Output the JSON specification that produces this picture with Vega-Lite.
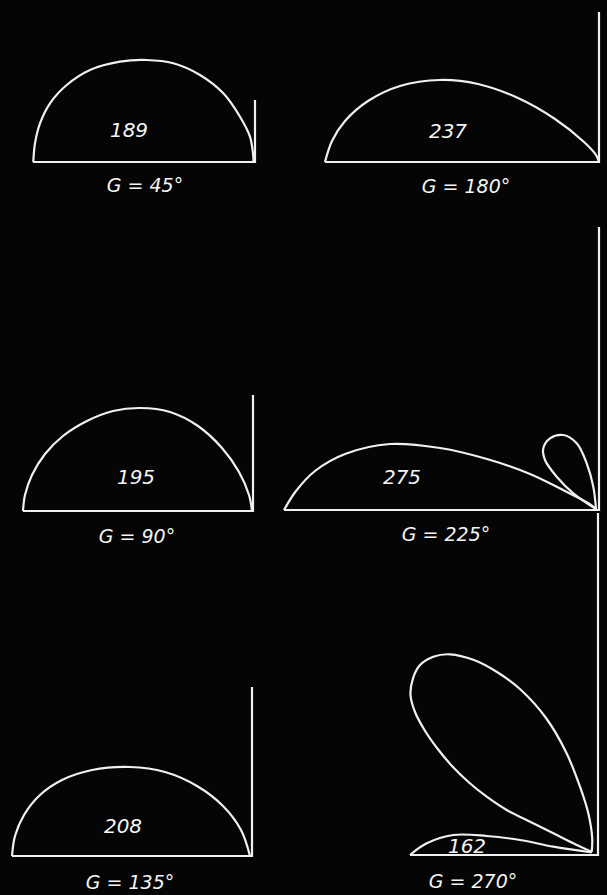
{
  "$schema": "https://vega.github.io/schema/vega-lite/v6.json",
  "autosize": {"type": "fit", "contains": "padding"},
  "width": 607,
  "height": 895,
  "padding": 0,
  "background": "#050505",
  "config": {"view": {"stroke": null}},
  "datasets": {
    "lines": [
      {"series": "p45f", "kind": "frame", "i": 0, "x": 33, "y": 162},
      {"series": "p45f", "kind": "frame", "i": 1, "x": 255, "y": 162},
      {"series": "p45f", "kind": "frame", "i": 2, "x": 255, "y": 100},
      {"series": "p45c", "kind": "curve", "i": 0, "x": 33.3, "y": 162},
      {"series": "p45c", "kind": "curve", "i": 1, "x": 35, "y": 143.3},
      {"series": "p45c", "kind": "curve", "i": 2, "x": 40, "y": 123.3},
      {"series": "p45c", "kind": "curve", "i": 3, "x": 50, "y": 103.3},
      {"series": "p45c", "kind": "curve", "i": 4, "x": 66.7, "y": 85},
      {"series": "p45c", "kind": "curve", "i": 5, "x": 90, "y": 70},
      {"series": "p45c", "kind": "curve", "i": 6, "x": 120, "y": 61.7},
      {"series": "p45c", "kind": "curve", "i": 7, "x": 146.7, "y": 60},
      {"series": "p45c", "kind": "curve", "i": 8, "x": 173.3, "y": 63.3},
      {"series": "p45c", "kind": "curve", "i": 9, "x": 200, "y": 75},
      {"series": "p45c", "kind": "curve", "i": 10, "x": 223.3, "y": 93.3},
      {"series": "p45c", "kind": "curve", "i": 11, "x": 240, "y": 116.7},
      {"series": "p45c", "kind": "curve", "i": 12, "x": 250, "y": 136.7},
      {"series": "p45c", "kind": "curve", "i": 13, "x": 253.3, "y": 156.7},
      {"series": "p45c", "kind": "curve", "i": 14, "x": 253.5, "y": 162},

      {"series": "p180f", "kind": "frame", "i": 0, "x": 325, "y": 162},
      {"series": "p180f", "kind": "frame", "i": 1, "x": 599, "y": 162},
      {"series": "p180f", "kind": "frame", "i": 2, "x": 599, "y": 12},
      {"series": "p180c", "kind": "curve", "i": 0, "x": 325, "y": 162},
      {"series": "p180c", "kind": "curve", "i": 1, "x": 332, "y": 141},
      {"series": "p180c", "kind": "curve", "i": 2, "x": 345, "y": 121},
      {"series": "p180c", "kind": "curve", "i": 3, "x": 368, "y": 101},
      {"series": "p180c", "kind": "curve", "i": 4, "x": 400, "y": 86},
      {"series": "p180c", "kind": "curve", "i": 5, "x": 440, "y": 80},
      {"series": "p180c", "kind": "curve", "i": 6, "x": 478, "y": 84},
      {"series": "p180c", "kind": "curve", "i": 7, "x": 518, "y": 98},
      {"series": "p180c", "kind": "curve", "i": 8, "x": 555, "y": 119},
      {"series": "p180c", "kind": "curve", "i": 9, "x": 584, "y": 142},
      {"series": "p180c", "kind": "curve", "i": 10, "x": 596, "y": 155},
      {"series": "p180c", "kind": "curve", "i": 11, "x": 599, "y": 162},

      {"series": "p90f", "kind": "frame", "i": 0, "x": 23, "y": 511},
      {"series": "p90f", "kind": "frame", "i": 1, "x": 253, "y": 511},
      {"series": "p90f", "kind": "frame", "i": 2, "x": 253, "y": 395},
      {"series": "p90c", "kind": "curve", "i": 0, "x": 23, "y": 511},
      {"series": "p90c", "kind": "curve", "i": 1, "x": 25, "y": 495},
      {"series": "p90c", "kind": "curve", "i": 2, "x": 32, "y": 475},
      {"series": "p90c", "kind": "curve", "i": 3, "x": 45, "y": 454},
      {"series": "p90c", "kind": "curve", "i": 4, "x": 63, "y": 436},
      {"series": "p90c", "kind": "curve", "i": 5, "x": 87, "y": 421},
      {"series": "p90c", "kind": "curve", "i": 6, "x": 113, "y": 411},
      {"series": "p90c", "kind": "curve", "i": 7, "x": 140, "y": 408},
      {"series": "p90c", "kind": "curve", "i": 8, "x": 170, "y": 412},
      {"series": "p90c", "kind": "curve", "i": 9, "x": 198, "y": 426},
      {"series": "p90c", "kind": "curve", "i": 10, "x": 222, "y": 448},
      {"series": "p90c", "kind": "curve", "i": 11, "x": 239, "y": 472},
      {"series": "p90c", "kind": "curve", "i": 12, "x": 249, "y": 495},
      {"series": "p90c", "kind": "curve", "i": 13, "x": 252, "y": 511},

      {"series": "p225f", "kind": "frame", "i": 0, "x": 284, "y": 510},
      {"series": "p225f", "kind": "frame", "i": 1, "x": 599, "y": 510},
      {"series": "p225f", "kind": "frame", "i": 2, "x": 599, "y": 227},
      {"series": "p225c", "kind": "curve", "i": 0, "x": 284, "y": 510},
      {"series": "p225c", "kind": "curve", "i": 1, "x": 296, "y": 491},
      {"series": "p225c", "kind": "curve", "i": 2, "x": 315, "y": 471},
      {"series": "p225c", "kind": "curve", "i": 3, "x": 345, "y": 454},
      {"series": "p225c", "kind": "curve", "i": 4, "x": 390, "y": 444},
      {"series": "p225c", "kind": "curve", "i": 5, "x": 440, "y": 448},
      {"series": "p225c", "kind": "curve", "i": 6, "x": 487, "y": 459},
      {"series": "p225c", "kind": "curve", "i": 7, "x": 530, "y": 474},
      {"series": "p225c", "kind": "curve", "i": 8, "x": 565, "y": 491},
      {"series": "p225c", "kind": "curve", "i": 9, "x": 588, "y": 503},
      {"series": "p225c", "kind": "curve", "i": 10, "x": 596, "y": 509},
      {"series": "p225s", "kind": "curve", "i": 0, "x": 596, "y": 509},
      {"series": "p225s", "kind": "curve", "i": 1, "x": 593.3, "y": 486.7},
      {"series": "p225s", "kind": "curve", "i": 2, "x": 586.7, "y": 463.3},
      {"series": "p225s", "kind": "curve", "i": 3, "x": 576.7, "y": 443.3},
      {"series": "p225s", "kind": "curve", "i": 4, "x": 563.3, "y": 435},
      {"series": "p225s", "kind": "curve", "i": 5, "x": 550, "y": 438.3},
      {"series": "p225s", "kind": "curve", "i": 6, "x": 543.3, "y": 448.3},
      {"series": "p225s", "kind": "curve", "i": 7, "x": 545, "y": 460},
      {"series": "p225s", "kind": "curve", "i": 8, "x": 556.7, "y": 476.7},
      {"series": "p225s", "kind": "curve", "i": 9, "x": 573.3, "y": 493.3},
      {"series": "p225s", "kind": "curve", "i": 10, "x": 596, "y": 509},

      {"series": "p135f", "kind": "frame", "i": 0, "x": 12, "y": 856},
      {"series": "p135f", "kind": "frame", "i": 1, "x": 252, "y": 856},
      {"series": "p135f", "kind": "frame", "i": 2, "x": 252, "y": 687},
      {"series": "p135c", "kind": "curve", "i": 0, "x": 12, "y": 856},
      {"series": "p135c", "kind": "curve", "i": 1, "x": 15, "y": 836},
      {"series": "p135c", "kind": "curve", "i": 2, "x": 24, "y": 815},
      {"series": "p135c", "kind": "curve", "i": 3, "x": 40, "y": 795},
      {"series": "p135c", "kind": "curve", "i": 4, "x": 62, "y": 780},
      {"series": "p135c", "kind": "curve", "i": 5, "x": 92, "y": 770},
      {"series": "p135c", "kind": "curve", "i": 6, "x": 130, "y": 767},
      {"series": "p135c", "kind": "curve", "i": 7, "x": 165, "y": 772},
      {"series": "p135c", "kind": "curve", "i": 8, "x": 197, "y": 786},
      {"series": "p135c", "kind": "curve", "i": 9, "x": 223, "y": 806},
      {"series": "p135c", "kind": "curve", "i": 10, "x": 241, "y": 830},
      {"series": "p135c", "kind": "curve", "i": 11, "x": 250, "y": 856},

      {"series": "p270f", "kind": "frame", "i": 0, "x": 410, "y": 855},
      {"series": "p270f", "kind": "frame", "i": 1, "x": 598, "y": 855},
      {"series": "p270f", "kind": "frame", "i": 2, "x": 598, "y": 513},
      {"series": "p270c", "kind": "curve", "i": 0, "x": 410, "y": 855},
      {"series": "p270c", "kind": "curve", "i": 1, "x": 426.7, "y": 843.3},
      {"series": "p270c", "kind": "curve", "i": 2, "x": 453.3, "y": 835},
      {"series": "p270c", "kind": "curve", "i": 3, "x": 486.7, "y": 836},
      {"series": "p270c", "kind": "curve", "i": 4, "x": 520, "y": 840},
      {"series": "p270c", "kind": "curve", "i": 5, "x": 553.3, "y": 846.7},
      {"series": "p270c", "kind": "curve", "i": 6, "x": 591.7, "y": 852.5},
      {"series": "p270l", "kind": "curve", "i": 0, "x": 591.7, "y": 852},
      {"series": "p270l", "kind": "curve", "i": 1, "x": 573.3, "y": 843.3},
      {"series": "p270l", "kind": "curve", "i": 2, "x": 553.3, "y": 833.3},
      {"series": "p270l", "kind": "curve", "i": 3, "x": 530, "y": 821.7},
      {"series": "p270l", "kind": "curve", "i": 4, "x": 506.7, "y": 810},
      {"series": "p270l", "kind": "curve", "i": 5, "x": 486.7, "y": 796.7},
      {"series": "p270l", "kind": "curve", "i": 6, "x": 469, "y": 782.5},
      {"series": "p270l", "kind": "curve", "i": 7, "x": 452, "y": 766},
      {"series": "p270l", "kind": "curve", "i": 8, "x": 437, "y": 748},
      {"series": "p270l", "kind": "curve", "i": 9, "x": 424.5, "y": 730},
      {"series": "p270l", "kind": "curve", "i": 10, "x": 415, "y": 712},
      {"series": "p270l", "kind": "curve", "i": 11, "x": 410.5, "y": 695},
      {"series": "p270l", "kind": "curve", "i": 12, "x": 413, "y": 678.3},
      {"series": "p270l", "kind": "curve", "i": 13, "x": 420, "y": 665},
      {"series": "p270l", "kind": "curve", "i": 14, "x": 433.3, "y": 656.7},
      {"series": "p270l", "kind": "curve", "i": 15, "x": 450, "y": 654.3},
      {"series": "p270l", "kind": "curve", "i": 16, "x": 474, "y": 660},
      {"series": "p270l", "kind": "curve", "i": 17, "x": 497, "y": 672},
      {"series": "p270l", "kind": "curve", "i": 18, "x": 521, "y": 690},
      {"series": "p270l", "kind": "curve", "i": 19, "x": 546, "y": 718},
      {"series": "p270l", "kind": "curve", "i": 20, "x": 566, "y": 752},
      {"series": "p270l", "kind": "curve", "i": 21, "x": 580, "y": 786.7},
      {"series": "p270l", "kind": "curve", "i": 22, "x": 588.3, "y": 813.3},
      {"series": "p270l", "kind": "curve", "i": 23, "x": 592.2, "y": 838},
      {"series": "p270l", "kind": "curve", "i": 24, "x": 591.7, "y": 852}
    ],
    "labels": [
      {"text": "189", "kind": "value", "x": 129, "y": 131},
      {"text": "237", "kind": "value", "x": 448, "y": 132},
      {"text": "195", "kind": "value", "x": 136, "y": 478},
      {"text": "275", "kind": "value", "x": 402, "y": 478},
      {"text": "208", "kind": "value", "x": 123, "y": 827},
      {"text": "162", "kind": "value", "x": 467, "y": 847},
      {"text": "G = 45°", "kind": "caption", "x": 145, "y": 186},
      {"text": "G = 180°", "kind": "caption", "x": 466, "y": 187},
      {"text": "G = 90°", "kind": "caption", "x": 137, "y": 537},
      {"text": "G = 225°", "kind": "caption", "x": 446, "y": 535},
      {"text": "G = 135°", "kind": "caption", "x": 130, "y": 883},
      {"text": "G = 270°", "kind": "caption", "x": 473, "y": 882}
    ]
  },
  "layer": [
    {
      "data": {"name": "lines"},
      "transform": [{"filter": "datum.kind === 'frame'"}],
      "mark": {"type": "line", "color": "#f0f0f0", "strokeWidth": 2.2, "interpolate": "linear"},
      "encoding": {
        "x": {"field": "x", "type": "quantitative", "scale": {"domain": [0, 607]}, "axis": null},
        "y": {"field": "y", "type": "quantitative", "scale": {"domain": [0, 895], "reverse": true}, "axis": null},
        "detail": {"field": "series"},
        "order": {"field": "i"}
      }
    },
    {
      "data": {"name": "lines"},
      "transform": [{"filter": "datum.kind === 'curve'"}],
      "mark": {"type": "line", "color": "#f0f0f0", "strokeWidth": 2.2, "interpolate": "catmull-rom"},
      "encoding": {
        "x": {"field": "x", "type": "quantitative", "scale": {"domain": [0, 607]}, "axis": null},
        "y": {"field": "y", "type": "quantitative", "scale": {"domain": [0, 895], "reverse": true}, "axis": null},
        "detail": {"field": "series"},
        "order": {"field": "i"}
      }
    },
    {
      "data": {"name": "labels"},
      "transform": [{"filter": "datum.kind === 'value'"}],
      "mark": {"type": "text", "color": "#f5f5f5", "font": "DejaVu Sans", "fontStyle": "italic", "fontSize": 20, "align": "center", "baseline": "middle"},
      "encoding": {
        "x": {"field": "x", "type": "quantitative", "scale": {"domain": [0, 607]}, "axis": null},
        "y": {"field": "y", "type": "quantitative", "scale": {"domain": [0, 895], "reverse": true}, "axis": null},
        "text": {"field": "text"}
      }
    },
    {
      "data": {"name": "labels"},
      "transform": [{"filter": "datum.kind === 'caption'"}],
      "mark": {"type": "text", "color": "#f5f5f5", "font": "DejaVu Sans", "fontStyle": "italic", "fontSize": 19, "align": "center", "baseline": "middle"},
      "encoding": {
        "x": {"field": "x", "type": "quantitative", "scale": {"domain": [0, 607]}, "axis": null},
        "y": {"field": "y", "type": "quantitative", "scale": {"domain": [0, 895], "reverse": true}, "axis": null},
        "text": {"field": "text"}
      }
    }
  ]
}
